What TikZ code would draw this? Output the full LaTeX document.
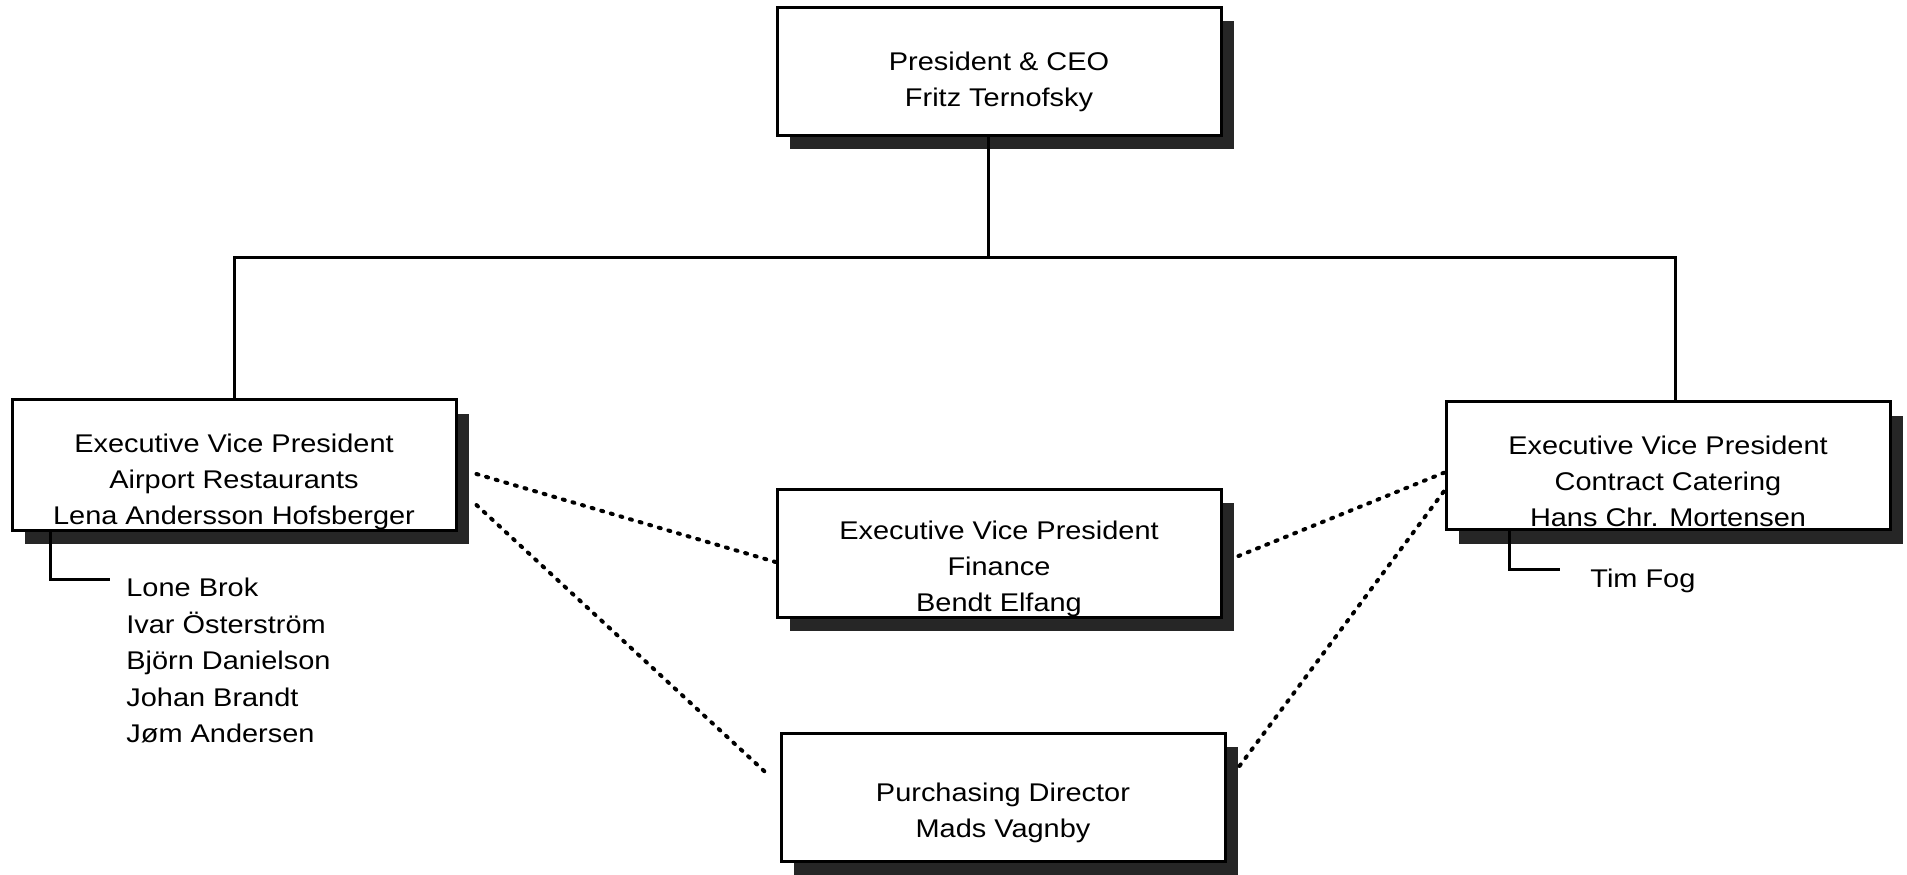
\documentclass[tikz,border=0pt]{standalone}
\usepackage{fontspec}
\setmainfont[FakeStretch=1.13]{Liberation Sans}
\usepackage{tikz}
\usetikzlibrary{positioning,shadows}

\begin{document}
\begin{tikzpicture}[
  node distance=10pt,
  rolebox/.style={rectangle,draw=black,line width=1.5pt,fill=white,
                  minimum width=222pt,minimum height=64pt,inner sep=0pt,align=center,
                  font=\fontsize{12.8pt}{18pt}\selectfont,
                  drop shadow={shadow xshift=6.5pt,shadow yshift=-7pt,fill=black!85,opacity=1}},
  staff/.style={anchor=north west,align=left,inner sep=0pt,
                font=\fontsize{12.8pt}{18.25pt}\selectfont},
  link/.style={line width=1.5pt,draw=black},
  liaison/.style={line width=2pt,line cap=round,dash pattern=on 1pt off 4pt}
]
  \useasboundingbox (0,0) rectangle (953.5pt,-437pt);

  \node[rolebox] (ceo) at (499.5pt,-35.5pt) {\rule{0pt}{20pt}President \& CEO\\Fritz Ternofsky};
  \node[rolebox,below=175.5pt of ceo] (finance)
    {\rule{0pt}{25pt}Executive Vice President\\Finance\\Bendt Elfang};
  \node[rolebox,below=56.5pt of finance,xshift=2pt] (purchasing)
    {\rule{0pt}{25pt}Purchasing Director\\Mads Vagnby};
  \node[rolebox] (airport) at (117pt,-232.5pt)
    {\rule{0pt}{26.5pt}Executive Vice President\\Airport Restaurants\\Lena Andersson Hofsberger};
  \node[rolebox] (catering) at (834pt,-232.75pt)
    {\rule{0pt}{25.5pt}Executive Vice President\\Contract Catering\\Hans Chr. Mortensen};

  \node[staff] (airstaff) at (63pt,-289pt)
    {Lone Brok\\Ivar Österström\\Björn Danielson\\Johan Brandt\\Jøm Andersen};
  \node[staff] (catstaff) at (795pt,-284.5pt) {Tim Fog};

  % reporting lines
  \coordinate (bus) at ([xshift=-5.5pt,yshift=-60.5pt]ceo.south);
  \draw[link] ([xshift=-5.5pt]ceo.south) -- (bus);
  \draw[link] (airport.north) |- (bus) -| ([xshift=3.5pt]catering.north);
  \draw[link] ([xshift=20pt]airport.south west) |- ([xshift=-8pt,yshift=-0.5pt]airstaff.north west);
  \draw[link] ([xshift=32.5pt]catering.south west) |- ([xshift=-15pt]catstaff.north west);

  % dotted links
  \draw[liaison] ([xshift=9.5pt,yshift=-4.5pt]airport.east) -- ([yshift=-4.5pt]finance.west);
  \draw[liaison] ([xshift=9.5pt,yshift=-20pt]airport.east) -- ([xshift=-5pt,yshift=10.5pt]purchasing.west);
  \draw[liaison] ([xshift=8pt,yshift=-1.5pt]finance.east) -- ([yshift=-3.5pt]catering.west);
  \draw[liaison] ([xshift=6.5pt,yshift=15.5pt]purchasing.east) -- ([yshift=-12.5pt]catering.west);
\end{tikzpicture}
\end{document}
